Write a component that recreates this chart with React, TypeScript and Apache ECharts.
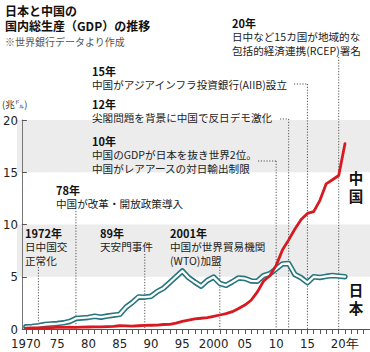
import React, { useEffect, useRef } from 'react';
import * as echarts from 'echarts';

// ---- data (trillion US$) ----
const YEARS = [
  1970, 1971, 1972, 1973, 1974, 1975, 1976, 1977, 1978, 1979,
  1980, 1981, 1982, 1983, 1984, 1985, 1986, 1987, 1988, 1989,
  1990, 1991, 1992, 1993, 1994, 1995, 1996, 1997, 1998, 1999,
  2000, 2001, 2002, 2003, 2004, 2005, 2006, 2007, 2008, 2009,
  2010, 2011, 2012, 2013, 2014, 2015, 2016, 2017, 2018, 2019,
  2020, 2021,
];
const JAPAN = [
  0.21, 0.24, 0.32, 0.43, 0.48, 0.52, 0.59, 0.72, 1.01, 1.06,
  1.11, 1.22, 1.13, 1.24, 1.32, 1.40, 2.08, 2.53, 3.07, 3.05,
  3.13, 3.58, 3.91, 4.45, 5.00, 5.55, 4.92, 4.49, 4.10, 4.64,
  4.97, 4.37, 4.18, 4.52, 4.89, 4.83, 4.60, 4.58, 5.11, 5.29,
  5.76, 6.23, 6.27, 5.21, 4.90, 4.44, 5.00, 4.93, 5.04, 5.12,
  5.06, 5.01,
];
const CHINA = [
  0.09, 0.10, 0.11, 0.14, 0.14, 0.16, 0.15, 0.17, 0.15, 0.18,
  0.19, 0.20, 0.21, 0.23, 0.26, 0.31, 0.30, 0.27, 0.31, 0.35,
  0.36, 0.38, 0.43, 0.44, 0.56, 0.73, 0.86, 0.96, 1.03, 1.09,
  1.21, 1.34, 1.47, 1.66, 1.96, 2.29, 2.75, 3.55, 4.59, 5.10,
  6.09, 7.55, 8.53, 9.57, 10.48, 11.06, 11.23, 12.31, 13.89, 14.28,
  14.69, 17.73,
];
const X_TICK_LABELS: Record<number, string> = {
  1970: '1970', 1975: '75', 1980: '80', 1985: '85', 1990: '90', 1995: '95',
  2000: '2000', 2005: '05', 2010: '10', 2015: '15', 2020: '20年',
};
const Y_TICKS = [0, 5, 10, 15, 20];
const GRAY_BANDS = [[5, 10], [15, 20]];
const TITLE = ['日本と中国の', '国内総生産（GDP）の推移'];
const SOURCE = '※世界銀行データより作成';
const UNIT = '(兆㌦)';
const SERIES_LABELS = ['中国', '日本'];
const EVENT_YEARS = [1972, 1978, 1989, 2001, 2010, 2012, 2015, 2020];
const EVENT_HEADS = ['1972年', '78年', '89年', '2001年', '10年', '12年', '15年', '20年'];
const EVENT_LINES = [
  ['日中国交', '正常化'],
  ['中国が改革・開放政策導入'],
  ['天安門事件'],
  ['中国が世界貿易機関', '(WTO)加盟'],
  ['中国のGDPが日本を抜き世界2位。', '中国がレアアースの対日輸出制限'],
  ['尖閣問題を背景に中国で反日デモ激化'],
  ['中国がアジアインフラ投資銀行(AIIB)設立'],
  ['日中など15カ国が地域的な', '包括的経済連携(RCEP)署名'],
];

// ---- layout (pixels) ----
const W = 370;
const H = 352;
const GRID = { left: 21, right: -2, top: 120, bottom: 23 };
const AXIS_OFFSET = 4;
const STEP = 13.5;
// per event: text left x, head centre y, dotted line top y, leader start x (or null)
const EVENT_LAYOUT = [
  { x: 25, y: 233, top: 267, leader: null },
  { x: 56, y: 190, top: 211, leader: null },
  { x: 100, y: 233, top: 254, leader: null },
  { x: 170, y: 233, top: 267, leader: null },
  { x: 92, y: 141, top: 161, leader: 258 },
  { x: 92, y: 104, top: 119, leader: 280 },
  { x: 92, y: 71, top: 84, leader: 294 },
  { x: 232, y: 23, top: 57, leader: null },
];

const JP_FONT = '"Noto Sans CJK JP", "Noto Sans", sans-serif';
const NUM_FONT = '"Liberation Sans Narrow", "DejaVu Sans Condensed", "Noto Sans", sans-serif';
const RED = '#d71920';
const TEAL = '#26767e';

export default function App() {
  const ref = useRef<HTMLDivElement>(null);

  useEffect(() => {
    const chart = echarts.init(ref.current!, null, { renderer: 'svg' });
    const jp = YEARS.map((y, i) => [y, JAPAN[i]]);
    const cn = YEARS.map((y, i) => [y, CHINA[i]]);

    chart.setOption({
      animation: false,
      grid: { ...GRID },
      xAxis: {
        type: 'value',
        min: 1970,
        max: 2025,
        interval: 5,
        axisLine: { show: true, lineStyle: { color: '#555', width: 1 } },
        axisTick: { show: true, length: 5, lineStyle: { color: '#555' } },
        minorTick: { show: true, splitNumber: 5, length: 5, lineStyle: { color: '#555' } },
        splitLine: { show: false },
        axisLabel: {
          margin: 8,
          fontSize: 13,
          fontFamily: NUM_FONT,
          color: '#222',
          showMaxLabel: false,
          formatter: (v: number) => {
            const s = X_TICK_LABELS[v];
            if (!s) return '';
            if (s.endsWith('年')) return '{p|}' + s;
            return s;
          },
          rich: { p: { width: 12 } },
        },
      },
      yAxis: {
        type: 'value',
        min: Y_TICKS[0],
        max: Y_TICKS[Y_TICKS.length - 1],
        interval: Y_TICKS[1] - Y_TICKS[0],
        offset: AXIS_OFFSET,
        axisLine: { show: true, lineStyle: { color: '#777', width: 1 } },
        axisTick: { show: true, inside: true, length: 5, lineStyle: { color: '#555' } },
        splitLine: { show: false },
        axisLabel: { margin: 4, fontSize: 13, fontFamily: NUM_FONT, color: '#222' },
      },
      series: [
        {
          type: 'line', data: jp, symbol: 'none', z: 3,
          lineStyle: { color: TEAL, width: 5.5, cap: 'round', join: 'round' },
        },
        {
          type: 'line', data: jp, symbol: 'none', z: 4,
          lineStyle: { color: '#ffffff', width: 2.3, cap: 'round', join: 'round' },
        },
        {
          type: 'line', data: cn, symbol: 'none', z: 5,
          lineStyle: { color: RED, width: 2.8, cap: 'round', join: 'round' },
        },
      ],
    });

    const px = (x: number, y: number) =>
      chart.convertToPixel({ gridIndex: 0 }, [x, y]) as number[];
    const base = px(1970, 0)[1];
    const axisX = GRID.left - AXIS_OFFSET;

    const g: any[] = [];
    GRAY_BANDS.forEach(([a, b]) => {
      const y1 = px(1970, b)[1];
      const y2 = px(1970, a)[1];
      g.push({
        type: 'rect', z: -1, silent: true,
        shape: { x: axisX, y: y1, width: W - axisX, height: y2 - y1 },
        style: { fill: '#ececec' },
      });
    });

    const line = (text: string, x: number, y: number, size: number, bold: boolean, color: string, align = 'left') => ({
      type: 'text', z: 10, silent: true, x, y,
      style: {
        text, fill: color, fontSize: size, fontWeight: bold ? 'bold' : 'normal',
        fontFamily: JP_FONT, verticalAlign: 'middle', align,
      },
    });
    const dash = (x1: number, y1: number, x2: number, y2: number) => ({
      type: 'line', z: 1, silent: true,
      shape: { x1, y1, x2, y2 },
      style: { stroke: '#555', lineWidth: 1, lineDash: [1.2, 1.6] },
    });

    g.push(line(TITLE[0], 5, 10, 12, true, '#111'));
    g.push(line(TITLE[1], 5, 25, 12, true, '#111'));
    g.push(line(SOURCE, 5, 41, 10, false, '#555'));
    g.push(line(UNIT, 2, 104, 9.5, false, '#333'));

    EVENT_YEARS.forEach((yr, i) => {
      const L = EVENT_LAYOUT[i];
      const ex = px(yr, 0)[0];
      g.push(line(EVENT_HEADS[i], L.x, L.y, 11, true, '#111'));
      EVENT_LINES[i].forEach((t, k) => {
        g.push(line(t, L.x, L.y + STEP * (k + 1), 10.6, false, '#222'));
      });
      if (L.leader != null) g.push(dash(L.leader, L.top, ex, L.top));
      g.push(dash(ex, L.top, ex, base));
    });

    const VSTEP = 18;
    [[SERIES_LABELS[0], 177], [SERIES_LABELS[1], 289]].forEach(([label, y0]) => {
      const s = label as string;
      for (let k = 0; k < s.length; k++) {
        g.push(line(s[k], 356, (y0 as number) + VSTEP * k, 14.5, true, '#111', 'center'));
      }
    });

    chart.setOption({ graphic: g });
    return () => chart.dispose();
  }, []);

  return (
    <div
      ref={ref}
      style={{ position: 'absolute', left: 0, top: 0, width: W, height: H, background: '#fff' }}
    />
  );
}
